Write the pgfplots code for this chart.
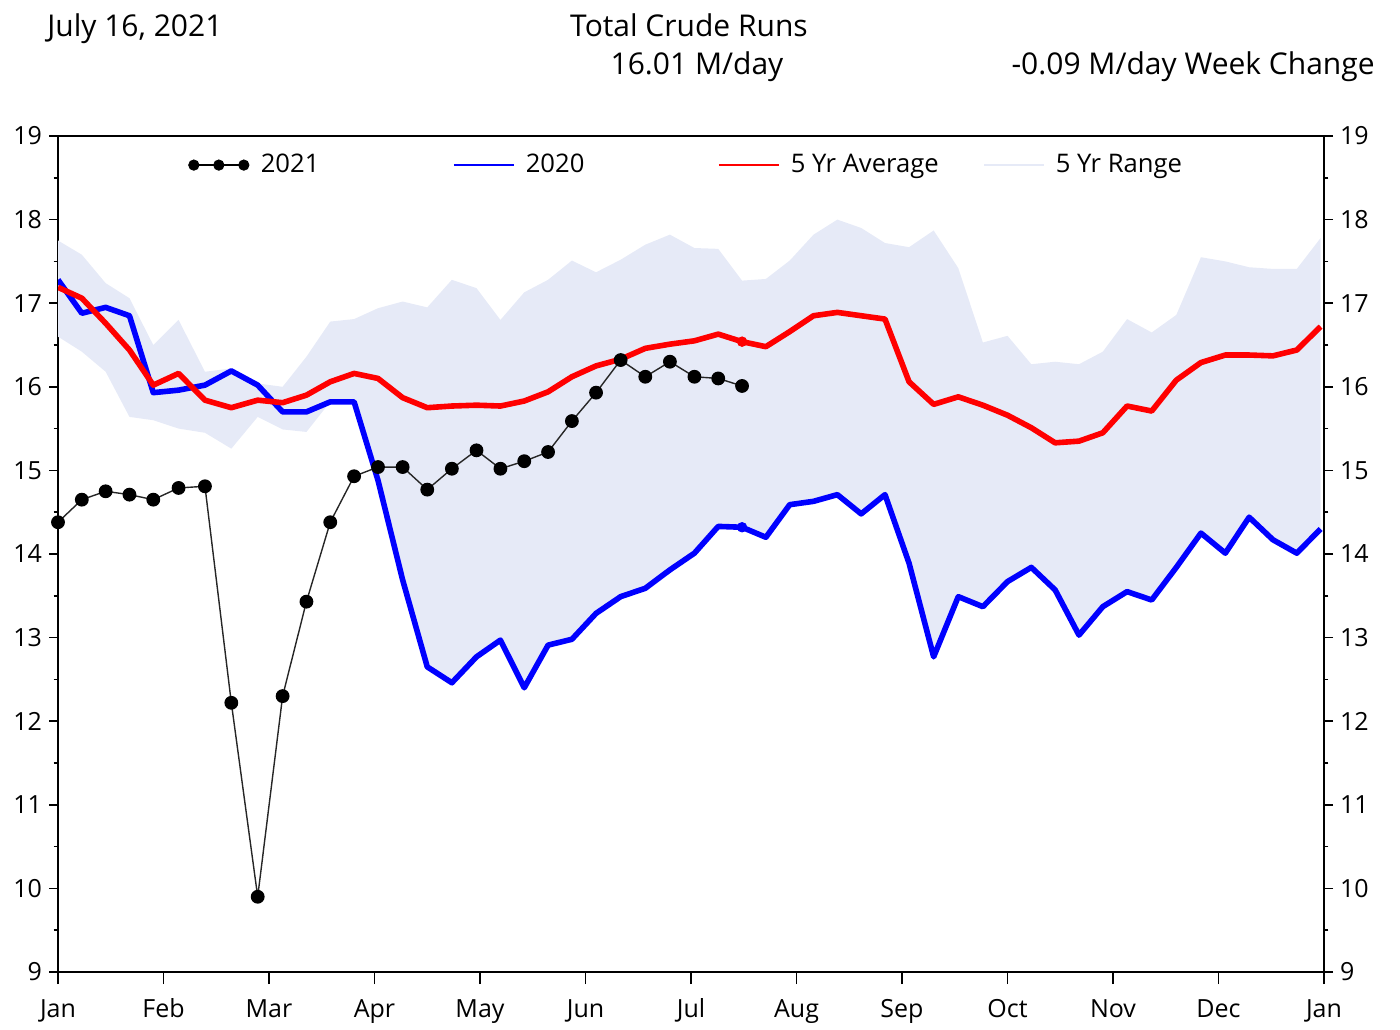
\documentclass[border=0pt]{standalone}
\usepackage{fontspec}
\setmainfont{Open Sans}
\usepackage{pgfplots}
\pgfplotsset{compat=1.18}
\usepgfplotslibrary{fillbetween}
\definecolor{bandcol}{RGB}{230,234,247}
\definecolor{myblue}{RGB}{0,0,255}
\definecolor{myred}{RGB}{255,0,0}

% x = month index + (day-1)/days in month, weekly dates from Jan 1
\pgfplotstableread{
x up lo
0.0000 17.75 16.60
0.2258 17.58 16.42
0.4516 17.24 16.18
0.6774 17.06 15.64
0.9032 16.50 15.60
1.1429 16.80 15.50
1.3929 16.18 15.45
1.6429 16.22 15.26
1.8929 16.04 15.64
2.1290 16.00 15.49
2.3548 16.36 15.46
2.5806 16.78 15.82
2.8065 16.81 15.82
3.0333 16.94 14.88
3.2667 17.02 13.69
3.5000 16.95 12.65
3.7333 17.28 12.46
3.9667 17.18 12.77
4.1935 16.80 12.97
4.4194 17.13 12.40
4.6452 17.28 12.91
4.8710 17.51 12.98
5.1000 17.37 13.29
5.3333 17.52 13.49
5.5667 17.70 13.59
5.8000 17.82 13.81
6.0323 17.66 14.01
6.2581 17.65 14.33
6.4839 17.27 14.32
6.7097 17.29 14.20
6.9355 17.51 14.59
7.1613 17.82 14.63
7.3871 18.00 14.71
7.6129 17.90 14.48
7.8387 17.72 14.71
8.0667 17.67 13.89
8.3000 17.87 12.77
8.5333 17.42 13.49
8.7667 16.53 13.37
9.0000 16.61 13.67
9.2258 16.27 13.84
9.4516 16.30 13.57
9.6774 16.27 13.03
9.9032 16.42 13.37
10.1333 16.81 13.55
10.3667 16.65 13.45
10.6000 16.86 13.84
10.8333 17.55 14.25
11.0645 17.50 14.01
11.2903 17.43 14.44
11.5161 17.41 14.17
11.7419 17.41 14.01
11.9677 17.78 14.30
}\rangetable

\pgfplotstableread{
x v
0.0000 17.28
0.2258 16.88
0.4516 16.95
0.6774 16.85
0.9032 15.93
1.1429 15.96
1.3929 16.02
1.6429 16.19
1.8929 16.02
2.1290 15.70
2.3548 15.70
2.5806 15.82
2.8065 15.82
3.0333 14.88
3.2667 13.69
3.5000 12.65
3.7333 12.46
3.9667 12.77
4.1935 12.97
4.4194 12.40
4.6452 12.91
4.8710 12.98
5.1000 13.29
5.3333 13.49
5.5667 13.59
5.8000 13.81
6.0323 14.01
6.2581 14.33
6.4839 14.32
6.7097 14.20
6.9355 14.59
7.1613 14.63
7.3871 14.71
7.6129 14.48
7.8387 14.71
8.0667 13.89
8.3000 12.77
8.5333 13.49
8.7667 13.37
9.0000 13.67
9.2258 13.84
9.4516 13.57
9.6774 13.03
9.9032 13.37
10.1333 13.55
10.3667 13.45
10.6000 13.84
10.8333 14.25
11.0645 14.01
11.2903 14.44
11.5161 14.17
11.7419 14.01
11.9677 14.30
}\yeartwenty

\pgfplotstableread{
x v
0.0000 17.19
0.2258 17.06
0.4516 16.76
0.6774 16.44
0.9032 16.02
1.1429 16.16
1.3929 15.84
1.6429 15.75
1.8929 15.84
2.1290 15.81
2.3548 15.90
2.5806 16.06
2.8065 16.16
3.0333 16.10
3.2667 15.87
3.5000 15.75
3.7333 15.77
3.9667 15.78
4.1935 15.77
4.4194 15.83
4.6452 15.94
4.8710 16.12
5.1000 16.25
5.3333 16.33
5.5667 16.46
5.8000 16.51
6.0323 16.55
6.2581 16.63
6.4839 16.54
6.7097 16.48
6.9355 16.66
7.1613 16.85
7.3871 16.89
7.6129 16.85
7.8387 16.81
8.0667 16.06
8.3000 15.79
8.5333 15.88
8.7667 15.78
9.0000 15.66
9.2258 15.51
9.4516 15.33
9.6774 15.35
9.9032 15.45
10.1333 15.77
10.3667 15.71
10.6000 16.08
10.8333 16.29
11.0645 16.38
11.2903 16.38
11.5161 16.37
11.7419 16.44
11.9677 16.72
}\avgtable

\pgfplotstableread{
x v
0.0000 14.38
0.2258 14.65
0.4516 14.75
0.6774 14.71
0.9032 14.65
1.1429 14.79
1.3929 14.81
1.6429 12.22
1.8929 9.90
2.1290 12.30
2.3548 13.43
2.5806 14.38
2.8065 14.93
3.0333 15.04
3.2667 15.04
3.5000 14.77
3.7333 15.02
3.9667 15.24
4.1935 15.02
4.4194 15.11
4.6452 15.22
4.8710 15.59
5.1000 15.93
5.3333 16.32
5.5667 16.12
5.8000 16.30
6.0323 16.12
6.2581 16.10
6.4839 16.01
}\yeartwentyone

\begin{document}
\begin{tikzpicture}
\pgfplotsset{
  common/.style={
    at={(0,0)}, anchor=south west,
    width=633pt, height=418pt, scale only axis,
    xmin=0, xmax=12, ymin=9, ymax=19,
    ytick={9,10,...,19}, minor y tick num=1,
    tick align=outside,
    major tick length=4.5pt, minor tick length=2.2pt,
    every tick/.style={black, line width=0.8pt},
    axis line style={black, line width=0.9pt},
    ticklabel style={font=\fontsize{12.5}{15}\selectfont},
    /pgf/number format/assume math mode=true,
  }
}
\begin{axis}[common,
  xtick={0,1,...,12},
  xticklabels={Jan,Feb,Mar,Apr,May,Jun,Jul,Aug,Sep,Oct,Nov,Dec,Jan},
  xtick style={/pgfplots/major tick length=6pt},
  xticklabel style={yshift=-5.5pt, text height=9pt, text depth=3pt},
  xtick pos=left, ytick pos=left,
  legend columns=4,
  legend style={at={(0.1027,0.9652)}, anchor=west, draw=none, fill=none,
    inner sep=0pt, outer sep=0pt, column sep=0pt,
    font=\fontsize{12.8}{15}\selectfont, nodes={inner sep=0pt}},
  legend cell align=left,
]
\addplot[name path=up, draw=none, forget plot] table[x=x, y=up] {\rangetable};
\addplot[name path=lo, draw=none, forget plot] table[x=x, y=lo] {\rangetable};
\addplot[bandcol, forget plot] fill between[of=up and lo];

\addplot[myblue, line width=2.8pt, line join=round, forget plot] table[x=x, y=v] {\yeartwenty};
\addplot[myred, line width=2.8pt, line join=round, forget plot] table[x=x, y=v] {\avgtable};
\addplot[myred, only marks, mark=*, mark size=2.4pt, forget plot] coordinates {(6.4839,16.54)};
\addplot[myblue, only marks, mark=*, mark size=2.4pt, forget plot] coordinates {(6.4839,14.32)};
\addplot[black!85, line width=0.7pt, mark=*, mark size=3.1pt, mark options={fill=black, draw=black}, forget plot] table[x=x, y=v] {\yeartwentyone};

\addlegendimage{legend image code/.code={
  \draw[black, line width=0.8pt] (0pt,0pt) -- (28.5pt,0pt);
  \fill[black] (2.5pt,0pt) circle (2.6pt);
  \fill[black] (15pt,0pt) circle (2.6pt);
  \fill[black] (27.5pt,0pt) circle (2.6pt);
  \path[draw=none, fill=none] (0pt,0pt) -- (36pt,0pt);}}
\addlegendentry{\makebox[96pt][l]{2021}}
\addlegendimage{legend image code/.code={
  \draw[myblue, line width=1pt] (0pt,0pt) -- (30pt,0pt);
  \path[draw=none, fill=none] (0pt,0pt) -- (36pt,0pt);}}
\addlegendentry{\makebox[96pt][l]{2020}}
\addlegendimage{legend image code/.code={
  \draw[myred, line width=1pt] (0pt,0pt) -- (30pt,0pt);
  \path[draw=none, fill=none] (0pt,0pt) -- (36pt,0pt);}}
\addlegendentry{\makebox[96pt][l]{5 Yr Average}}
\addlegendimage{legend image code/.code={
  \draw[bandcol, line width=1pt] (0pt,0pt) -- (30pt,0pt);
  \path[draw=none, fill=none] (0pt,0pt) -- (36pt,0pt);}}
\addlegendentry{\makebox[60pt][l]{5 Yr Range}}
\end{axis}

\begin{axis}[common,
  axis y line*=right, axis x line=none,
  ytick pos=right, yticklabel pos=right,
]
\addplot[draw=none] coordinates {(0,9) (12,19)};
\end{axis}

\node[anchor=base west, inner sep=0pt, font=\fontsize{15}{18}\selectfont] at (-5.5pt,467.5pt) {July 16, 2021};
\node[anchor=base, inner sep=0pt, font=\fontsize{15}{18}\selectfont] at (315.5pt,467.5pt) {Total Crude Runs};
\node[anchor=base, inner sep=0pt, font=\fontsize{15}{18}\selectfont] at (319.5pt,448.5pt) {16.01 M/day};
\node[anchor=base east, inner sep=0pt, font=\fontsize{15}{18}\selectfont] at (658.5pt,448.5pt) {-0.09 M/day Week Change};

\pgfresetboundingbox
\path (-29pt,-28.5pt) rectangle (671pt,486pt);
\end{tikzpicture}
\end{document}
